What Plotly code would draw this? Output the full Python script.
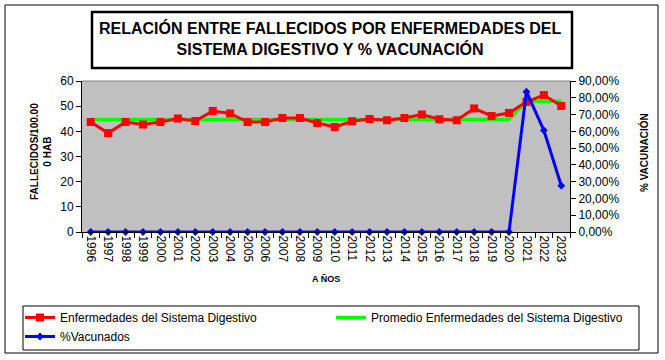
import plotly.graph_objects as go

years = [str(y) for y in range(1996, 2024)]
enfermedades = [43.7, 39.3, 43.7, 42.7, 43.7, 45.1, 44.1, 48.1, 47.1, 43.7,
                43.7, 45.3, 45.3, 43.3, 41.7, 44.0, 44.9, 44.4, 45.3, 46.7,
                44.8, 44.4, 49.1, 46.1, 47.3, 51.7, 54.4, 50.1]
promedio = [44.7] * 25 + [52.0, 52.0, 52.0]
vacunados = [0.0] * 25 + [0.836, 0.606, 0.276]

W, H = 665, 360
ML, MR, MT, MB = 82, 95, 81, 128
PW, PH = W - ML - MR, H - MT - MB

def px(x):
    return (x - ML) / PW

def py(y):
    return (H - MB - y) / PH

FONT = "Liberation Sans, Arial, sans-serif"

fig = go.Figure()
fig.add_trace(go.Scatter(
    x=years, y=promedio, name="Promedio Enfermedades del Sistema Digestivo",
    mode="lines", line=dict(color="#00FF00", width=3.5), legend="legend2"))
fig.add_trace(go.Scatter(
    x=years, y=enfermedades, name="Enfermedades del Sistema Digestivo",
    mode="lines+markers", line=dict(color="#FF0000", width=3),
    marker=dict(symbol="square", size=8, color="#FF0000"), legendrank=1))
fig.add_trace(go.Scatter(
    x=years, y=vacunados, name="%Vacunados", yaxis="y2",
    mode="lines+markers", line=dict(color="#0000FF", width=3),
    marker=dict(symbol="diamond", size=6, color="#0000FF"),
    cliponaxis=False, legendrank=3))

shapes = [
    dict(type="rect", xref="paper", yref="paper", x0=px(5), x1=px(658), y0=py(5), y1=py(353),
         line=dict(color="black", width=1), layer="below"),
    dict(type="rect", xref="paper", yref="paper", x0=px(92), x1=px(572), y0=py(12), y1=py(68),
         line=dict(color="black", width=2.5)),
    dict(type="rect", xref="paper", yref="paper", x0=px(23), x1=px(639), y0=py(306), y1=py(350),
         line=dict(color="black", width=1)),
    dict(type="line", xref="paper", yref="paper", x0=0, x1=1, y0=1, y1=1,
         line=dict(color="#808080", width=1)),
]

annotations = [
    dict(text="<b>RELACIÓN ENTRE FALLECIDOS POR ENFERMEDADES DEL<br>SISTEMA DIGESTIVO Y % VACUNACIÓN</b>",
         xref="paper", yref="paper", x=px(330), y=py(39), xanchor="center", yanchor="middle",
         showarrow=False, font=dict(family=FONT, size=16, color="black"), align="center"),
    dict(text="<b>FALLECIDOS/100.00<br>0 HAB</b>", xref="paper", yref="paper",
         x=px(41), y=py(152), xanchor="center", yanchor="middle", showarrow=False, textangle=-90,
         font=dict(family=FONT, size=10, color="black"), align="center"),
    dict(text="<b>% VACUNACIÓN</b>", xref="paper", yref="paper",
         x=px(644), y=py(153), xanchor="center", yanchor="middle", showarrow=False, textangle=-90,
         font=dict(family=FONT, size=10, color="black")),
    dict(text="<b>A ÑOS</b>", xref="paper", yref="paper",
         x=px(326), y=py(279), xanchor="center", yanchor="middle", showarrow=False,
         font=dict(family=FONT, size=9, color="black")),
]

legend_common = dict(orientation="v", xanchor="left", yanchor="top",
                     bgcolor="rgba(0,0,0,0)", font=dict(family=FONT, size=12, color="black"),
                     tracegroupgap=0, itemwidth=30, traceorder="normal")

fig.update_layout(
    width=W, height=H,
    margin=dict(l=ML, r=MR, t=MT, b=MB, autoexpand=False),
    paper_bgcolor="white", plot_bgcolor="#C0C0C0",
    separators=",.",
    font=dict(family=FONT, size=12, color="black"),
    showlegend=True,
    legend=dict(x=px(20), y=py(303), **legend_common),
    legend2=dict(x=px(331), y=py(303), **legend_common),
    xaxis=dict(type="category", range=[-0.5, len(years) - 0.5], tickson="boundaries",
               ticks="outside", ticklen=5,
               tickcolor="black", showline=True, linecolor="black", linewidth=1,
               showgrid=False, tickangle=90, tickfont=dict(size=12), zeroline=False,
               automargin=False),
    yaxis=dict(range=[0, 60], dtick=10, ticks="outside", ticklen=5, tickcolor="black",
               showline=True, linecolor="black", linewidth=1, showgrid=False,
               zeroline=False, tickfont=dict(size=12), automargin=False),
    yaxis2=dict(range=[0, 0.9], dtick=0.1, tickformat=".2%", overlaying="y", side="right",
                ticks="outside", ticklen=5, tickcolor="black", showline=True,
                linecolor="black", linewidth=1, showgrid=False, zeroline=False,
                tickfont=dict(size=12), automargin=False),
    shapes=shapes, annotations=annotations,
)

fig.write_html("out.html", config={"displayModeBar": False},
               post_script="document.body.style.margin='0px';")
